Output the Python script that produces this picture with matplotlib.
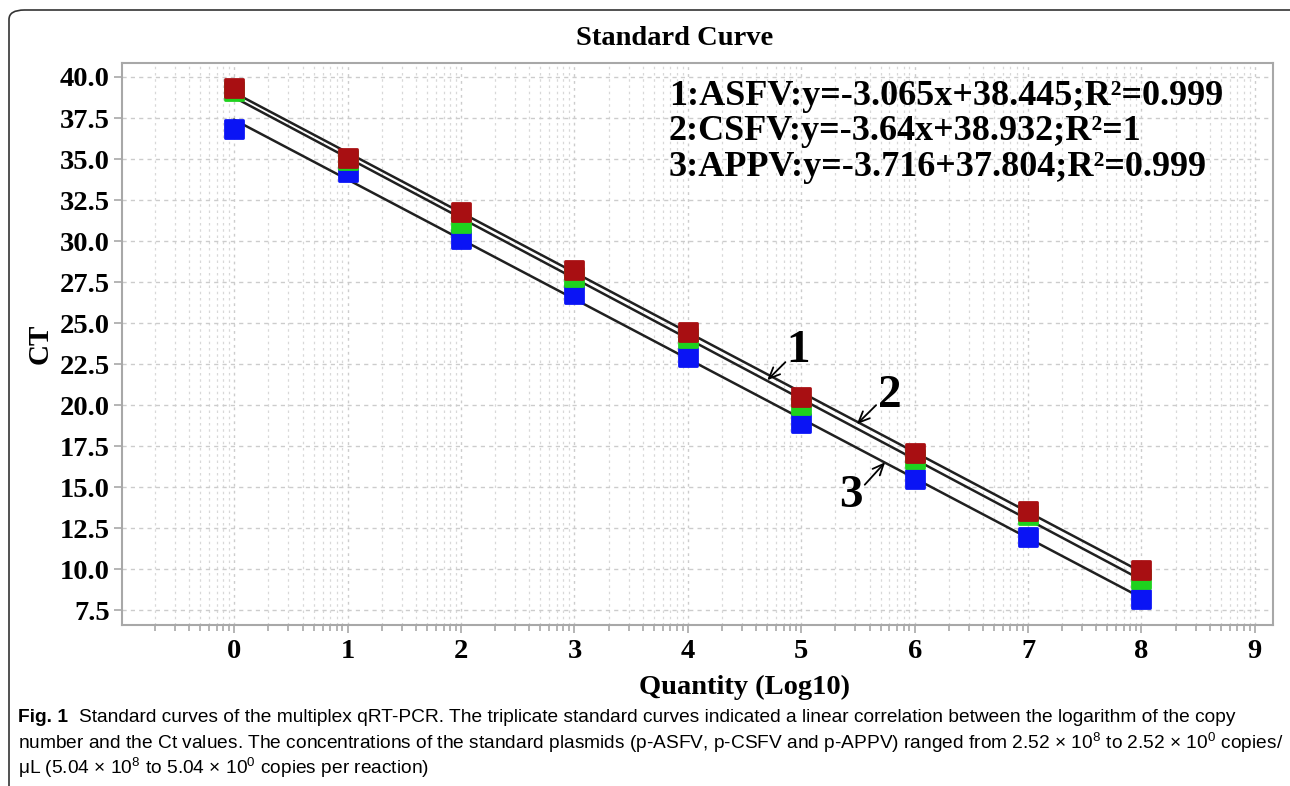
import numpy as np
import matplotlib
matplotlib.use("Agg")
import matplotlib.pyplot as plt
from matplotlib.markers import MarkerStyle
from matplotlib.patches import FancyBboxPatch

# log10 quantity and Ct values
quantity = [0, 1, 2, 3, 4, 5, 6, 7, 8]
ct_red = [39.31, 35.04, 31.79, 28.23, 24.47, 20.50, 17.11, 13.55, 9.94]
ct_green = [39.15, 34.95, 31.08, 27.79, 24.10, 19.98, 16.72, 13.30, 9.40]
ct_blue = [36.81, 34.23, 30.12, 26.77, 22.94, 18.92, 15.49, 11.97, 8.17]

equations = [
    "1:ASFV:y=-3.065x+38.445;R²=0.999",
    "2:CSFV:y=-3.64x+38.932;R²=1",
    "3:APPV:y=-3.716+37.804;R²=0.999",
]
y_ticks = [7.5, 10.0, 12.5, 15.0, 17.5, 20.0, 22.5, 25.0, 27.5, 30.0, 32.5, 35.0, 37.5, 40.0]
x_ticks = [0, 1, 2, 3, 4, 5, 6, 7, 8, 9]

serif = "Liberation Serif"
cap_font = ["Liberation Sans", "DejaVu Sans"]
plt.rcParams["mathtext.fontset"] = "custom"
plt.rcParams["mathtext.rm"] = "Liberation Sans"

fig = plt.figure(figsize=(12.9, 7.86), dpi=100)
ax = fig.add_axes([0.0946, 0.2048, 0.8922, 0.715])

# grid: dashed horizontal at the y ticks, dotted vertical at log positions
minor_x = [k + np.log10(m) for k in range(-1, 9) for m in range(2, 10)]
ax.set_xticks(x_ticks)
ax.set_xticks(minor_x, minor=True)
ax.set_yticks(y_ticks)
ax.grid(axis="y", which="major", color="#cccccc", linestyle=(0, (3, 3)), linewidth=1)
ax.grid(axis="x", which="major", color="#cccccc", linestyle=(0, (2, 3)), linewidth=1)
ax.grid(axis="x", which="minor", color="#d8d8d8", linestyle=(0, (2, 3)), linewidth=0.9)
ax.set_axisbelow(True)

colors = ["#0a14f5", "#1ed21e", "#a80f12"]
series = [ct_blue, ct_green, ct_red]
sq = MarkerStyle("s", joinstyle="round")
for ys in series:
    k, b = np.polyfit(quantity, ys, 1)
    xs = np.array([quantity[0], quantity[-1]])
    ax.plot(xs, k * xs + b, color="#202020", linewidth=1.8, zorder=3)
for ys, col in zip(series, colors):
    ax.plot(quantity, ys, linestyle="none", marker=sq, markersize=12.5,
            markerfacecolor=col, markeredgecolor=col, markeredgewidth=2, zorder=4)

ax.set_xlim(-0.99, 9.16)
ax.set_ylim(6.6, 40.85)
for s in ax.spines.values():
    s.set_color("#a8a8a8")
    s.set_linewidth(1.5)
ax.tick_params(axis="both", which="both", colors="#a8a8a8", width=1.2)
ax.tick_params(axis="both", which="major", length=6, labelcolor="black")
ax.tick_params(axis="x", which="minor", length=4)
ax.set_xticklabels([str(v) for v in x_ticks], fontfamily=serif, fontweight="bold", fontsize=20.5)
ax.set_yticklabels([f"{v:.1f}" for v in y_ticks], fontfamily=serif, fontweight="bold", fontsize=20.5)
ax.tick_params(axis="x", pad=4)
ax.tick_params(axis="y", pad=3)

ax.set_xlabel("Quantity (Log10)", fontfamily=serif, fontweight="bold", fontsize=20.5, labelpad=8)
ax.xaxis.set_label_coords(0.541, -0.088)
ax.set_ylabel("CT", fontfamily=serif, fontweight="bold", fontsize=21, labelpad=4)
fig.text(0.523, 0.951, "Standard Curve", fontfamily=serif, fontweight="bold",
         fontsize=20.5, ha="center", va="center")

for i, eq in enumerate(equations):
    ax.text(0.475, 0.94 - i * 0.0625, eq, transform=ax.transAxes, fontfamily=serif,
            fontweight="bold", fontsize=26, va="center", ha="left")

# curve labels with arrows
arrow = dict(arrowstyle="->,head_length=0.8,head_width=0.35", color="black",
             linewidth=1.3, shrinkA=0, shrinkB=0)
for lab, txt_xy in [("1", (4.97, 23.3)), ("2", (5.78, 20.55)), ("3", (5.44, 14.45))]:
    ax.text(txt_xy[0], txt_xy[1], lab, fontfamily=serif, fontweight="bold",
            fontsize=34, ha="center", va="center", zorder=5)
ax.annotate("", xy=(4.70, 21.52), xytext=(4.86, 22.62), arrowprops=arrow, zorder=5)
ax.annotate("", xy=(5.49, 18.84), xytext=(5.66, 20.0), arrowprops=arrow, zorder=5)
ax.annotate("", xy=(5.74, 16.52), xytext=(5.56, 15.15), arrowprops=arrow, zorder=5)

# outer frame of the figure panel
frame = FancyBboxPatch((9 / 1290, -0.1), 1.2, 1.1 - 10 / 786,
                       boxstyle="round,pad=0,rounding_size=0.012",
                       transform=fig.transFigure, fill=False,
                       edgecolor="#333333", linewidth=1.2)
fig.patches.append(frame)

# caption
fs = 13.8
fig.text(0.014, 0.087, "Fig. 1", fontfamily=cap_font, fontweight="bold", fontsize=fs, va="center")
fig.text(0.0615, 0.087, "Standard curves of the multiplex qRT-PCR. The triplicate standard curves indicated a linear correlation between the logarithm of the copy",
         fontfamily=cap_font, fontsize=fs, va="center")
fig.text(0.014, 0.055, "number and the Ct values. The concentrations of the standard plasmids (p-ASFV, p-CSFV and p-APPV) ranged from 2.52 × 10$^{8}$ to 2.52 × 10$^{0}$ copies/",
         fontfamily=cap_font, fontsize=fs, va="center")
fig.text(0.014, 0.023, "μL (5.04 × 10$^{8}$ to 5.04 × 10$^{0}$ copies per reaction)",
         fontfamily=cap_font, fontsize=fs, va="center")

fig.savefig("out.png", dpi=100)
